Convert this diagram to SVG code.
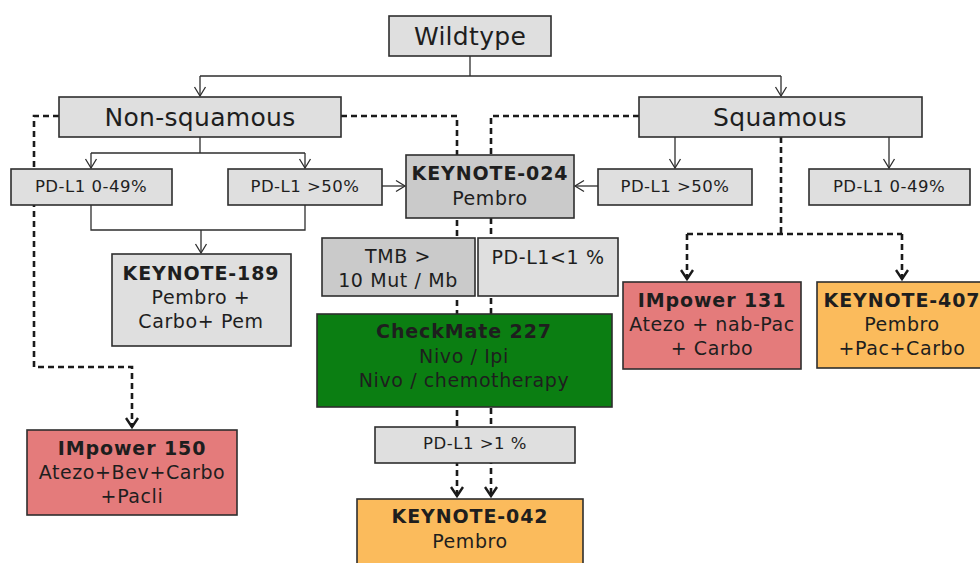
<svg xmlns="http://www.w3.org/2000/svg" width="980" height="563" viewBox="0 0 980 563">
<style>
  .box{stroke:#2e2e2e;stroke-width:1.6}
  .g1{fill:#dfdfdf}
  .g2{fill:#cacaca}
  .red{fill:#e47b7b}
  .org{fill:#fbbb5c}
  .grn{fill:#0b7e12}
  text{font-family:"DejaVu Sans","Verdana",sans-serif;fill:#1e1e1e;text-anchor:middle}
  .big{font-size:25px;letter-spacing:0.3px}
  .sm{font-size:16.5px;letter-spacing:0.5px}
  .md{font-size:19px;letter-spacing:0.6px}
  .b{font-weight:bold;letter-spacing:0.9px}
  .sol{fill:none;stroke:#2e2e2e;stroke-width:1.3}
  .dash{fill:none;stroke:#1a1a1a;stroke-width:2.6;stroke-dasharray:6,4}
</style>
<defs>
  <marker id="a1" markerUnits="userSpaceOnUse" viewBox="-12 -7 14 14" refX="0" refY="0" markerWidth="14" markerHeight="14" orient="auto" overflow="visible">
    <path d="M-9,-5.5 L0,0 L-9,5.5" fill="none" stroke="#2e2e2e" stroke-width="1.3"/>
  </marker>
  <marker id="a2" markerUnits="userSpaceOnUse" viewBox="-12 -7 14 14" refX="0" refY="0" markerWidth="14" markerHeight="14" orient="auto" overflow="visible">
    <path d="M-9,-6 L0,0 L-9,6" fill="none" stroke="#1a1a1a" stroke-width="2.4"/>
  </marker>
</defs>
<g id="connectors">
  <path class="sol" d="M470,56 V76 M200,76 H781"/>
  <path class="sol" d="M200,76 V96" marker-end="url(#a1)"/>
  <path class="sol" d="M781,76 V96" marker-end="url(#a1)"/>
  <path class="sol" d="M200,137 V153 M91,153 H305"/>
  <path class="sol" d="M91,153 V168" marker-end="url(#a1)"/>
  <path class="sol" d="M305,153 V168" marker-end="url(#a1)"/>
  <path class="sol" d="M382,186 H405" marker-end="url(#a1)"/>
  <path class="sol" d="M598,186 H575" marker-end="url(#a1)"/>
  <path class="sol" d="M675,137 V168" marker-end="url(#a1)"/>
  <path class="sol" d="M889,137 V168" marker-end="url(#a1)"/>
  <path class="sol" d="M91,205 V230 H305 V205"/>
  <path class="sol" d="M201,230 V253" marker-end="url(#a1)"/>
  <path class="dash" d="M59,116 H34 V367 H132 V427" marker-end="url(#a2)"/>
  <path class="dash" d="M341,116 H457 V496" marker-end="url(#a2)"/>
  <path class="dash" d="M639,116 H491 V496" marker-end="url(#a2)"/>
  <path class="dash" d="M781,137 V234 M687,234 H902"/>
  <path class="dash" d="M687,234 V279" marker-end="url(#a2)"/>
  <path class="dash" d="M902,234 V279" marker-end="url(#a2)"/>
</g>
<g id="wildtype"><rect class="box g1" x="389" y="16" width="162" height="40"/><text class="big" x="470" y="45">Wildtype</text></g>
<g id="nonsquamous"><rect class="box g1" x="59" y="97" width="282" height="40"/><text class="big" x="200" y="126">Non-squamous</text></g>
<g id="squamous"><rect class="box g1" x="639" y="97" width="283" height="40"/><text class="big" x="780" y="126">Squamous</text></g>
<g id="ns-pdl1-low"><rect class="box g1" x="11" y="169" width="161" height="36"/><text class="sm" x="91" y="192">PD-L1 0-49%</text></g>
<g id="ns-pdl1-high"><rect class="box g1" x="228" y="169" width="154" height="36"/><text class="sm" x="305" y="192">PD-L1 &gt;50%</text></g>
<g id="sq-pdl1-high"><rect class="box g1" x="598" y="169" width="154" height="36"/><text class="sm" x="675" y="192">PD-L1 &gt;50%</text></g>
<g id="sq-pdl1-low"><rect class="box g1" x="809" y="169" width="161" height="36"/><text class="sm" x="889" y="192">PD-L1 0-49%</text></g>
<g id="keynote024"><rect class="box g2" x="406" y="155" width="168" height="63"/><text class="md b" x="490" y="180">KEYNOTE-024</text><text class="md" x="490" y="205">Pembro</text></g>
<g id="tmb"><rect class="box g2" x="322" y="238" width="153" height="58"/><text class="md" x="398" y="263">TMB &gt;</text><text class="md" x="398" y="287">10 Mut / Mb</text></g>
<g id="pdl1-lt1"><rect class="box g1" x="478" y="238" width="140" height="58"/><text class="md" x="548" y="264">PD-L1&lt;1 %</text></g>
<g id="keynote189"><rect class="box g1" x="112" y="254" width="179" height="92"/><text class="md b" x="201" y="280">KEYNOTE-189</text><text class="md" x="201" y="304">Pembro +</text><text class="md" x="201" y="328">Carbo+ Pem</text></g>
<g id="checkmate227"><rect class="box grn" x="317" y="314" width="295" height="93"/><text class="md b" x="464" y="338">CheckMate 227</text><text class="md" x="464" y="363">Nivo / Ipi</text><text class="md" x="464" y="387">Nivo / chemotherapy</text></g>
<g id="pdl1-gt1"><rect class="box g1" x="375" y="427" width="200" height="36"/><text class="sm" x="475" y="449">PD-L1 &gt;1 %</text></g>
<g id="keynote042"><rect class="box org" x="357" y="499" width="226" height="70"/><text class="md b" x="470" y="523">KEYNOTE-042</text><text class="md" x="470" y="548">Pembro</text></g>
<g id="impower150"><rect class="box red" x="27" y="430" width="210" height="85"/><text class="md b" x="132" y="455">IMpower 150</text><text class="md" x="132" y="479">Atezo+Bev+Carbo</text><text class="md" x="132" y="503">+Pacli</text></g>
<g id="impower131"><rect class="box red" x="623" y="282" width="178" height="87"/><text class="md b" x="712" y="307">IMpower 131</text><text class="md" x="712" y="331">Atezo + nab-Pac</text><text class="md" x="712" y="355">+ Carbo</text></g>
<g id="keynote407"><rect class="box org" x="817" y="282" width="170" height="86"/><text class="md b" x="902" y="307">KEYNOTE-407</text><text class="md" x="902" y="331">Pembro</text><text class="md" x="902" y="355">+Pac+Carbo</text></g>
</svg>
